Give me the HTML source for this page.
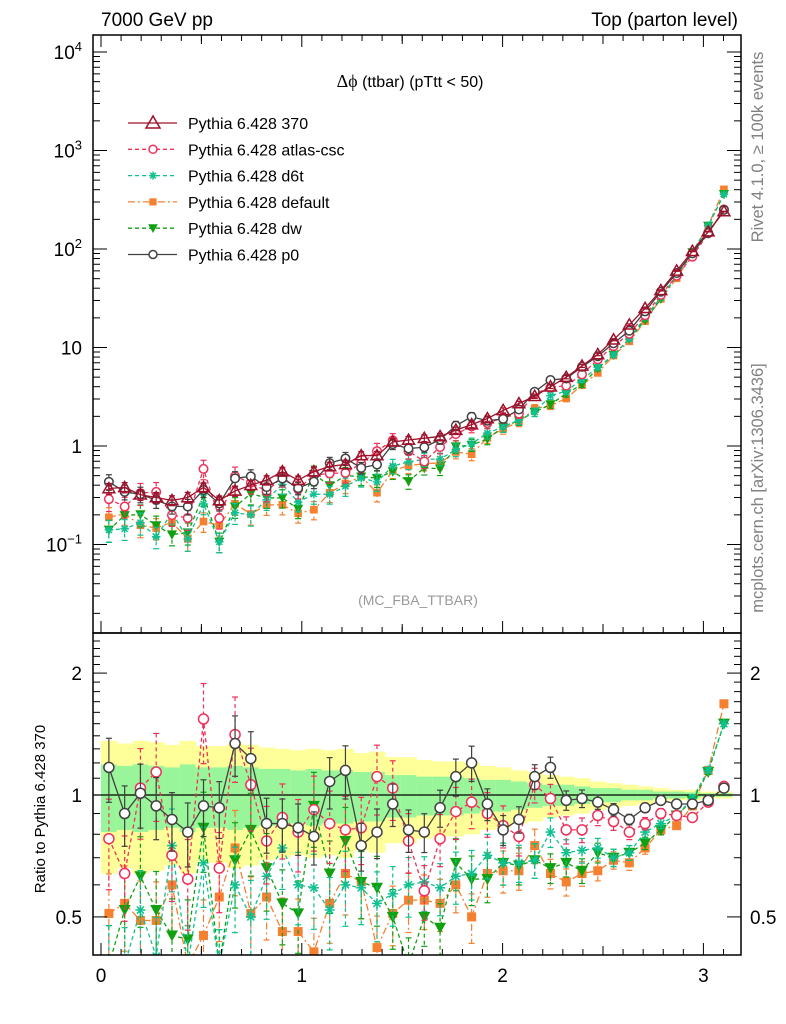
<!DOCTYPE html>
<html><head><meta charset="utf-8"><style>
body{margin:0;background:#fff;}
svg{display:block;font-family:"Liberation Sans",sans-serif;}
</style></head><body>
<svg id="c" width="786" height="1024" xmlns="http://www.w3.org/2000/svg"></svg>
<script>
const refValues=[0.37,0.38,0.32,0.30,0.28,0.30,0.38,0.28,0.35,0.40,0.45,0.55,0.45,0.55,0.62,0.65,0.80,0.80,1.1,1.15,1.2,1.25,1.45,1.65,1.9,2.3,2.7,3.2,4.0,5.0,6.5,8.5,12,17,25,38,60,95,150,240];
const ratioAtlas=[0.78,0.64,1.04,1.14,0.71,0.62,1.54,0.66,1.41,1.06,0.77,0.88,0.81,0.92,0.85,0.82,0.83,1.11,1.04,0.77,0.58,0.78,0.91,0.96,0.90,0.84,0.79,1.06,0.98,0.82,0.82,0.89,0.86,0.81,0.85,0.90,0.89,0.88,0.96,1.05];
const ratioD6t=[0.38,0.38,0.52,0.40,0.75,0.38,0.68,0.38,0.60,0.50,0.63,0.74,0.60,0.59,0.52,0.60,0.59,0.54,0.57,0.60,0.61,0.59,0.63,0.64,0.71,0.68,0.68,0.69,0.81,0.72,0.73,0.74,0.70,0.72,0.81,0.85,0.89,0.98,1.15,1.50];
const ratioDefault=[0.51,0.54,0.49,0.49,0.60,0.38,0.45,0.56,0.74,0.51,0.56,0.46,0.46,0.41,0.54,0.64,0.61,0.42,0.51,0.55,0.55,0.54,0.60,0.50,0.64,0.65,0.65,0.75,0.64,0.61,0.64,0.65,0.69,0.68,0.74,0.82,0.84,0.94,1.15,1.68];
const ratioDw=[0.38,0.52,0.63,0.52,0.45,0.44,0.83,0.38,0.69,0.82,0.66,0.54,0.51,0.94,0.64,0.77,0.61,0.59,0.50,0.38,0.50,0.47,0.68,0.62,0.62,0.68,0.67,0.69,0.66,0.68,0.65,0.72,0.70,0.72,0.76,0.82,0.89,0.97,1.14,1.50];
const ratioP0=[1.17,0.90,1.01,0.94,0.87,0.81,0.94,0.93,1.34,1.23,0.85,0.85,0.83,0.79,1.08,1.15,0.75,0.81,0.95,0.82,0.81,0.93,1.11,1.20,0.95,0.82,0.87,1.11,1.17,0.97,0.98,0.96,0.92,0.87,0.93,0.97,0.95,0.95,0.97,1.04];
const bandYellow=[0.36,0.34,0.36,0.35,0.33,0.36,0.32,0.32,0.34,0.33,0.31,0.30,0.29,0.30,0.29,0.30,0.27,0.28,0.24,0.24,0.22,0.21,0.21,0.20,0.18,0.17,0.15,0.14,0.12,0.11,0.10,0.08,0.07,0.06,0.05,0.04,0.03,0.03,0.02,0.02];
const bandGreen=[0.19,0.18,0.19,0.18,0.17,0.19,0.17,0.17,0.18,0.17,0.16,0.16,0.15,0.16,0.15,0.15,0.14,0.14,0.12,0.12,0.11,0.11,0.11,0.10,0.09,0.09,0.08,0.07,0.06,0.06,0.05,0.04,0.04,0.03,0.03,0.02,0.02,0.015,0.01,0.01];
const xTicks=[0,1,2,3];
const mainTicks=[4,3,2,1,0,-1];
const ratioTicks=[2,1,0.5];

const NS="http://www.w3.org/2000/svg",S=document.getElementById('c');
function el(t,a,p){const e=document.createElementNS(NS,t);for(const k in a)e.setAttribute(k,a[k]);(p||S).appendChild(e);return e;}
const L=93,R=741,T=35,MB=633,RB=955;
const X=v=>101+v*200.8;
const Ym=v=>446-98.5*Math.log10(v);
const Yr=v=>795-405*Math.log10(v);
const N=refValues.length,bw=Math.PI/N;
const ctr=i=>(i+0.5)*bw;

const defs=el('defs',{});
const c1=el('clipPath',{id:'cm'},defs);el('rect',{x:L,y:T,width:R-L,height:MB-T},c1);
const c2=el('clipPath',{id:'cr'},defs);el('rect',{x:L,y:MB,width:R-L,height:RB-MB},c2);

const gB=el('g',{'clip-path':'url(#cr)'});


for(let i=0;i<N;i++){
  const x0=X(i*bw),x1=X((i+1)*bw)+0.5;
  const by=el('rect',{x:x0,y:Yr(1+bandYellow[i]),width:x1-x0,height:Yr(1-bandYellow[i])-Yr(1+bandYellow[i]),fill:'#ffff99'},gB);
  
  
  const bg=el('rect',{x:x0,y:Yr(1+bandGreen[i]),width:x1-x0,height:Yr(1-bandGreen[i])-Yr(1+bandGreen[i]),fill:'#99f599'},gB);
  
  
}
const ref1=el('line',{x1:L,x2:R,y1:Yr(1),y2:Yr(1),stroke:'#000','stroke-width':1.3});



const series=[
 {name:'370',ratio:null,col:'#a0102a',dash:'',m:'tri',err:0.35},
 {name:'atlas-csc',ratio:ratioAtlas,col:'#f0305a',dash:'4,3',m:'circ',err:0.7},
 {name:'d6t',ratio:ratioD6t,col:'#10c090',dash:'4,3',m:'star',err:0.7},
 {name:'default',ratio:ratioDefault,col:'#f58030',dash:'7,3,2,3',m:'sq',err:0.7},
 {name:'dw',ratio:ratioDw,col:'#10a010',dash:'4,3',m:'dtri',err:0.7},
 {name:'p0',ratio:ratioP0,col:'#404040',dash:'',m:'circ',err:0.5}
];
function marker(g,m,x,y,col,s){
  s=s||1;
  if(m==='tri')el('polygon',{points:`${x},${y-7*s} ${x-7*s},${y+5*s} ${x+7*s},${y+5*s}`,fill:'none',stroke:col,'stroke-width':1.5},g);
  else if(m==='circ')el('circle',{cx:x,cy:y,r:5*s,fill:'#fff',stroke:col,'stroke-width':1.5},g);
  else if(m==='sq')el('rect',{x:x-4.5*s,y:y-4.5*s,width:9*s,height:9*s,fill:col},g);
  else if(m==='dtri')el('polygon',{points:`${x-6*s},${y-5*s} ${x+6*s},${y-5*s} ${x},${y+6*s}`,fill:col},g);
  else if(m==='star'){for(let a=0;a<4;a++){const t=a*Math.PI/4;el('line',{x1:x-5*s*Math.cos(t),y1:y-5*s*Math.sin(t),x2:x+5*s*Math.cos(t),y2:y+5*s*Math.sin(t),stroke:col,'stroke-width':1.5},g);}}
}
function drawSeries(s,panel){
  const g=el('g',{'clip-path':panel==='main'?'url(#cm)':'url(#cr)'});
  
  
  const pts=[];
  const Yf=panel==='main'?Ym:Yr;
  const sc=panel==='main'?0.85:1;
  for(let i=0;i<N;i++){
    const r=s.ratio?s.ratio[i]:1;
    const v=panel==='main'?refValues[i]*r:r;
    const e=v*bandYellow[i]*s.err;
    const x=X(ctr(i)),y=Yf(v);
    pts.push([x,y]);
    const lo=v-e,hi=v+e;
    el('line',{x1:x,x2:x,y1:Yf(hi),y2:Yf(lo),stroke:s.col,'stroke-width':1.2,'stroke-dasharray':s.dash},g);
    el('line',{x1:x-3,x2:x+3,y1:Yf(hi),y2:Yf(hi),stroke:s.col,'stroke-width':1.2},g);
    el('line',{x1:x-3,x2:x+3,y1:Yf(lo),y2:Yf(lo),stroke:s.col,'stroke-width':1.2},g);
  }
  el('polyline',{points:pts.map(p=>p.join(',')).join(' '),fill:'none',stroke:s.col,'stroke-width':1.3,'stroke-dasharray':s.dash},g);
  pts.forEach(p=>marker(g,s.m,p[0],p[1],s.col,sc));
}
[3,4,2,1,5,0].forEach(i=>drawSeries(series[i],'main'));
[3,4,2,1,5].forEach(i=>drawSeries(series[i],'ratio'));

const f1=el('rect',{x:L,y:T,width:R-L,height:MB-T,fill:'none',stroke:'#000','stroke-width':1.5});

const f2=el('rect',{x:L,y:MB,width:R-L,height:RB-MB,fill:'none',stroke:'#000','stroke-width':1.5});


const ax=el('g',{stroke:'#000','stroke-width':1});

for(let v=0;v<=3.15;v+=0.1){
  const x=X(v),maj=Math.abs(v-Math.round(v))<1e-6,len=maj?12:6;
  [[RB,-1],[MB,-1],[T,1]].forEach(([y,d])=>{el('line',{x1:x,x2:x,y1:y,y2:y+d*len},ax);});
  if(Math.abs(v*2-Math.round(v*2))<1e-6&&!maj)[[RB,-1],[MB,-1],[T,1]].forEach(([y,d])=>{el('line',{x1:x,x2:x,y1:y,y2:y+d*9},ax);});
}
for(let d=-2;d<=4;d++)for(let k=1;k<10;k++){
  const v=k*Math.pow(10,d),y=Ym(v);if(y<T||y>MB)continue;
  const len=k===1?14:7;
  el('line',{x1:L,x2:L+len,y1:y,y2:y},ax);el('line',{x1:R,x2:R-len,y1:y,y2:y},ax);
}
for(let v=0.4;v<=2.5;v+=0.1){const y=Yr(v);if(y<MB||y>RB)continue;
  const maj=[0.5,1,2].some(m=>Math.abs(m-v)<1e-6),len=maj?14:7;
  el('line',{x1:L,x2:L+len,y1:y,y2:y},ax);el('line',{x1:R,x2:R-len,y1:y,y2:y},ax);}

function txt(s,a,name){const t=el('text',a);t.textContent=s;return t;}
xTicks.forEach(v=>txt(String(v),{x:X(v),y:982,'font-size':19,'text-anchor':'middle'},'x-tick-label-'+v));
mainTicks.forEach(d=>{
  const y=Ym(Math.pow(10,d))+7;
  if(d===0)txt('1',{x:82,y:y,'font-size':19,'text-anchor':'end'},'y-tick-label-1');
  else if(d===1)txt('10',{x:82,y:y,'font-size':19,'text-anchor':'end'},'y-tick-label-10');
  else{const t=txt('',{x:82,y:y,'font-size':19,'text-anchor':'end'},'y-tick-label-1e'+d);
    const a=el('tspan',{},t);a.textContent='10';const b=el('tspan',{dy:-8,'font-size':13},t);b.textContent=String(d).replace('-','−');}
});
ratioTicks.forEach(v=>{const y=Yr(v)+7;
  txt(String(v),{x:82,y:y,'font-size':19,'text-anchor':'end'},'ratio-tick-label-left-'+v);
  txt(String(v),{x:750,y:y,'font-size':19},'ratio-tick-label-right-'+v);});

txt('7000 GeV pp',{x:101,y:26,'font-size':19},'energy-label');
txt('Top (parton level)',{x:738,y:26,'font-size':19,'text-anchor':'end'},'process-label');
const tt=txt('',{x:410,y:87,'font-size':16,'text-anchor':'middle'},'plot-title');
tt.innerHTML='<tspan font-family="Liberation Serif" font-size="18">Δϕ</tspan> (ttbar) (pTtt &lt; 50)';
txt('(MC_FBA_TTBAR)',{x:418,y:605,'font-size':14,fill:'#999','text-anchor':'middle'},'analysis-label');
txt('Ratio to Pythia 6.428 370',{x:0,y:0,'font-size':15,'text-anchor':'middle',transform:'translate(45,809) rotate(-90)'},'ratio-y-axis-title');
txt('Rivet 4.1.0, ≥ 100k events',{x:0,y:0,'font-size':16.5,fill:'#808080','text-anchor':'middle',transform:'translate(763,147) rotate(-90)'},'rivet-version-label');
txt('mcplots.cern.ch [arXiv:1306.3436]',{x:0,y:0,'font-size':16.5,fill:'#808080','text-anchor':'middle',transform:'translate(763,488) rotate(-90)'},'mcplots-label');

series.forEach((s,i)=>{
  const y=123+i*26.3;
  const g=el('g',{});
  
  
  el('line',{x1:128,x2:177,y1:y,y2:y,stroke:s.col,'stroke-width':1.3,'stroke-dasharray':s.dash},g);
  marker(g,s.m,153,y,s.col,s.m==='tri'?1:0.8);
  const t=el('text',{x:188,y:y+6,'font-size':16},g);t.textContent='Pythia 6.428 '+s.name;
});
</script>
</body></html>
